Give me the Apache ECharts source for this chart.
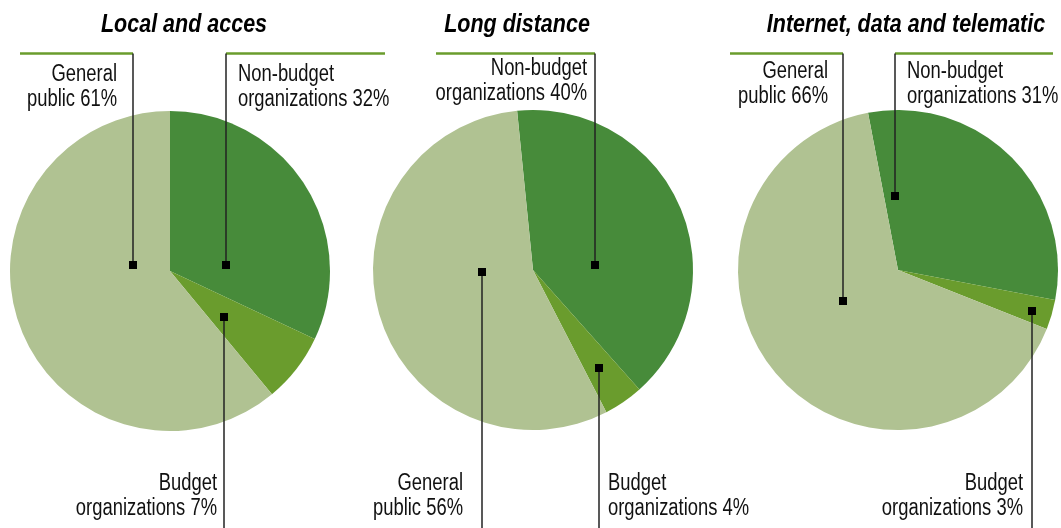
<!DOCTYPE html>
<html><head><meta charset="utf-8">
<script src="https://cdn.jsdelivr.net/npm/echarts@6/dist/echarts.min.js"></script>
<style>html,body{margin:0;padding:0;background:#fff}#c{width:1061px;height:528px}</style>
</head><body><div id="c"></div>
<script>
// ---- data ----
const pieTitles = ['Local and acces', 'Long distance', 'Internet, data and telematic'];
const categories = ['Non-budget organizations', 'Budget organizations', 'General public'];
const labelFirst = ['Non-budget', 'Budget', 'General'];
const labelSecond = ['organizations', 'organizations', 'public'];
const localAcces = [32, 7, 61];
const longDistance = [40, 4, 56];
const internetData = [31, 3, 66];
const pieValues = [localAcces, longDistance, internetData];

// ---- styling / layout ----
const sliceColors = ['#478b3a', '#6a9c2d', '#b0c292'];
const FONT = "'Liberation Sans Narrow', 'Liberation Sans', Arial, sans-serif";
const NARROW = 0.80, TITLE_NARROW = 0.86;
const centers = [[170, 271], [533, 270], [898, 270]];
const startAngles = [90, 95.7, 100.8];
const titleX = [184, 517, 906];
// marker offset from pie centre, leader direction, end of green rule
const leaders = [
  [[56, -6, 'up', 385], [54, 46, 'down'], [-37, -6, 'up', 20]],
  [[62, -5, 'up', 436], [66, 98, 'down'], [-51, 2, 'down']],
  [[-3, -74, 'up', 1053], [134, 41, 'down'], [-55, 31, 'up', 730]]
];
const labelPos = [
  [[238, 62, 'left'], [217, 471, 'right'], [117, 62, 'right']],
  [[587, 56, 'right'], [608, 471, 'left'], [463, 471, 'right']],
  [[907, 59, 'left'], [1023, 471, 'right'], [828, 59, 'right']]
];
const RULE_Y = 53.5, BOTTOM_Y = 528;

const chart = echarts.init(document.getElementById('c'), null, {renderer: 'canvas'});

const series = pieValues.map((vals, si) => ({
  type: 'pie',
  name: pieTitles[si],
  center: centers[si],
  radius: 160,
  startAngle: startAngles[si],
  clockwise: true,
  avoidLabelOverlap: false,
  silent: true,
  animation: false,
  emphasis: {disabled: true},
  label: {show: false},
  labelLine: {show: false},
  data: categories.map((c, i) => ({name: c, value: vals[i], itemStyle: {color: sliceColors[i]}}))
}));

const graphics = [];
pieTitles.forEach((t, i) => {
  graphics.push({type: 'text', z: 110, x: titleX[i], y: 13, scaleX: TITLE_NARROW,
    style: {text: t, align: 'center', verticalAlign: 'top', fill: '#000',
      font: "italic bold 25px " + FONT}});
});
leaders.forEach((pie, si) => {
  pie.forEach((l, di) => {
    const mx = centers[si][0] + l[0], my = centers[si][1] + l[1];
    const yEnd = l[2] === 'up' ? RULE_Y : BOTTOM_Y;
    graphics.push({type: 'line', z: 100, shape: {x1: mx, y1: my, x2: mx, y2: yEnd},
      style: {stroke: '#222', lineWidth: 1.5}});
    if (l[2] === 'up') {
      graphics.push({type: 'line', z: 99, shape: {x1: Math.min(mx, l[3]), y1: RULE_Y, x2: Math.max(mx, l[3]), y2: RULE_Y},
        style: {stroke: '#6a9c2d', lineWidth: 2.5}});
    }
    graphics.push({type: 'rect', z: 101, shape: {x: mx - 4, y: my - 4, width: 8, height: 8},
      style: {fill: '#000'}});
    const lp = labelPos[si][di];
    graphics.push({type: 'text', z: 110, x: lp[0], y: lp[1], scaleX: NARROW,
      style: {text: labelFirst[di] + '\n' + labelSecond[di] + ' ' + pieValues[si][di] + '%',
        align: lp[2], verticalAlign: 'top', fill: '#111', lineHeight: 25,
        font: "23px " + FONT}});
  });
});

chart.setOption({
  animation: false,
  backgroundColor: '#fff',
  series: series,
  graphic: graphics
});
</script>
</body></html>
